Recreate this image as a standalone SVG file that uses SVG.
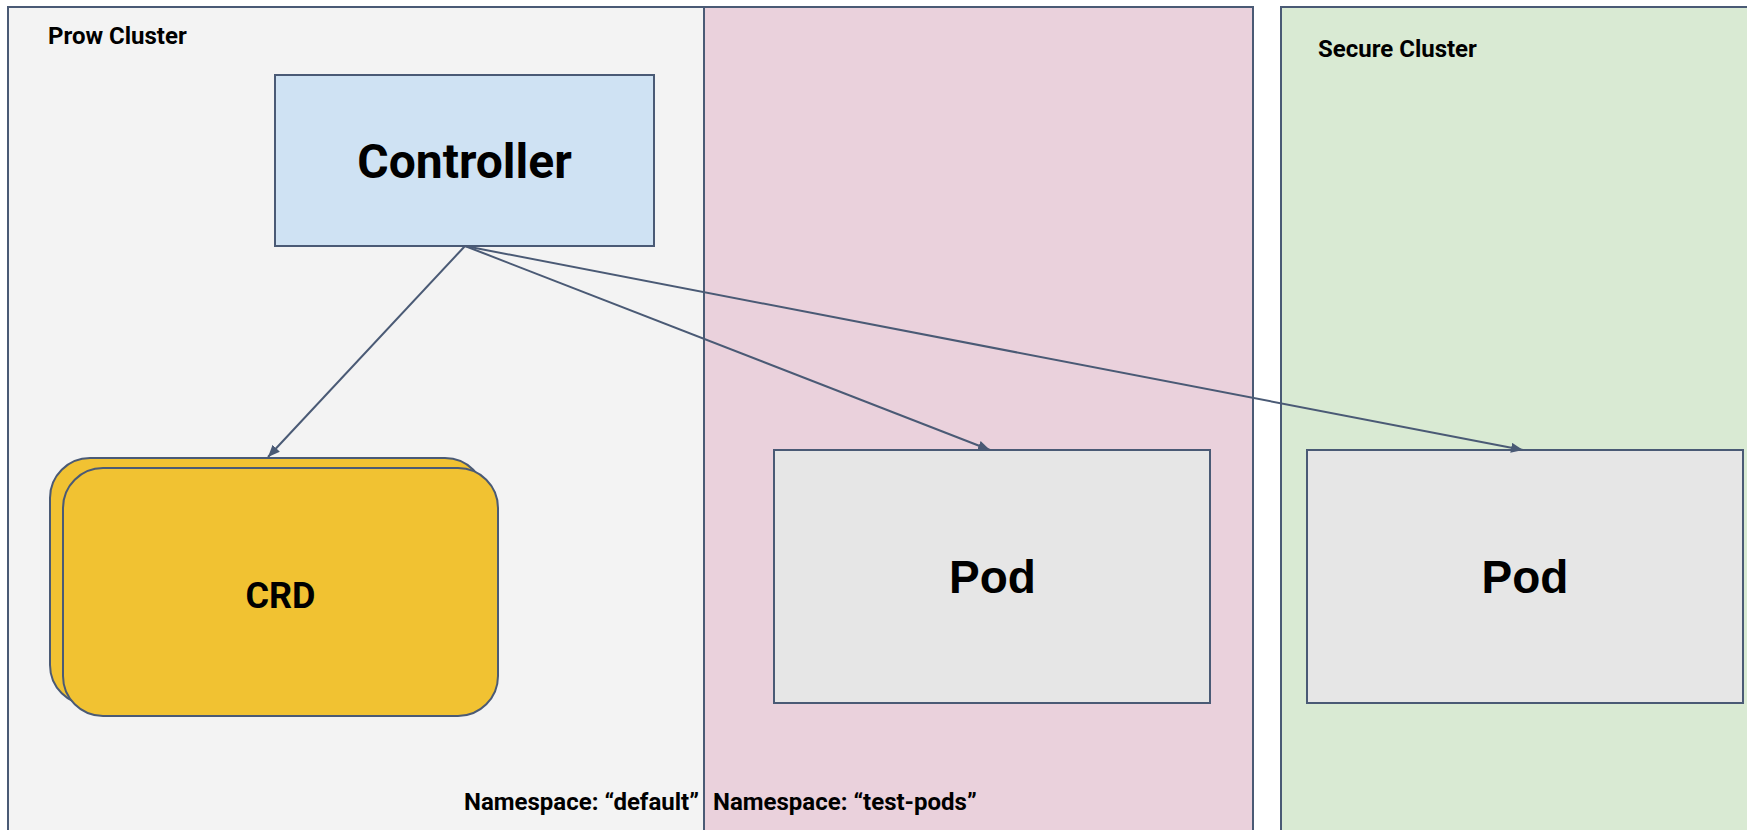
<svg xmlns="http://www.w3.org/2000/svg" width="1747" height="830" viewBox="0 0 1747 830">
  <style>
    .box { stroke: #4a5a75; stroke-width: 2; }
    .lbl { font-family: Roboto, "Liberation Sans", sans-serif; font-weight: bold; fill: #000; }
    .small { font-size: 24px; }
    .big { font-size: 48px; text-anchor: middle; }
    .pod { font-family: "Liberation Sans", Arial, sans-serif; font-weight: bold; font-size: 46px; text-anchor: middle; fill: #000; }
    .conn { stroke: #4a5a75; stroke-width: 2; fill: none; marker-end: url(#arrow); }
  </style>
  <defs>
    <marker id="arrow" markerUnits="userSpaceOnUse" markerWidth="12" markerHeight="10" refX="12" refY="5" orient="auto">
      <path d="M0,0 L12,5 L0,10 z" fill="#4a5a75"/>
    </marker>
  </defs>
  <rect x="0" y="0" width="1747" height="830" fill="#ffffff"/>

  <g id="prow-cluster">
    <rect class="box" x="8" y="7" width="1245" height="840" fill="#f3f3f3"/>
    <text class="lbl small" x="48" y="44">Prow Cluster</text>
  </g>
  <g id="ns-test-pods">
    <rect class="box" x="704" y="7" width="549" height="840" fill="#ead1dc"/>
  </g>
  <g id="secure-cluster">
    <rect class="box" x="1281" y="7" width="480" height="840" fill="#d9ead3"/>
    <text class="lbl small" x="1318" y="57">Secure Cluster</text>
  </g>
  <g id="ns-labels">
    <text class="lbl small" x="464" y="810">Namespace: “default”</text>
    <text class="lbl small" x="713" y="810">Namespace: “test-pods”</text>
  </g>

  <g id="controller">
    <rect class="box" x="275" y="75" width="379" height="171" fill="#cfe2f3"/>
    <text class="lbl big" x="464.5" y="178">Controller</text>
  </g>

  <g id="crd">
    <rect class="box" x="50" y="458" width="435" height="247" rx="40" ry="40" fill="#f1c232"/>
    <rect class="box" x="63" y="468" width="435" height="248" rx="40" ry="40" fill="#f1c232"/>
    <text class="lbl" x="280.5" y="608" font-size="36" text-anchor="middle">CRD</text>
  </g>

  <g id="pod-test">
    <rect class="box" x="774" y="450" width="436" height="253" fill="#e6e6e6"/>
    <text class="pod" x="992.5" y="593">Pod</text>
  </g>

  <g id="pod-secure">
    <rect class="box" x="1307" y="450" width="436" height="253" fill="#e6e6e6"/>
    <text class="pod" x="1525" y="593">Pod</text>
  </g>

  <g id="connectors">
    <line class="conn" x1="465" y1="246" x2="268" y2="457"/>
    <line class="conn" x1="465" y1="246" x2="990" y2="450"/>
    <line class="conn" x1="465" y1="246" x2="1523" y2="450"/>
  </g>
</svg>
